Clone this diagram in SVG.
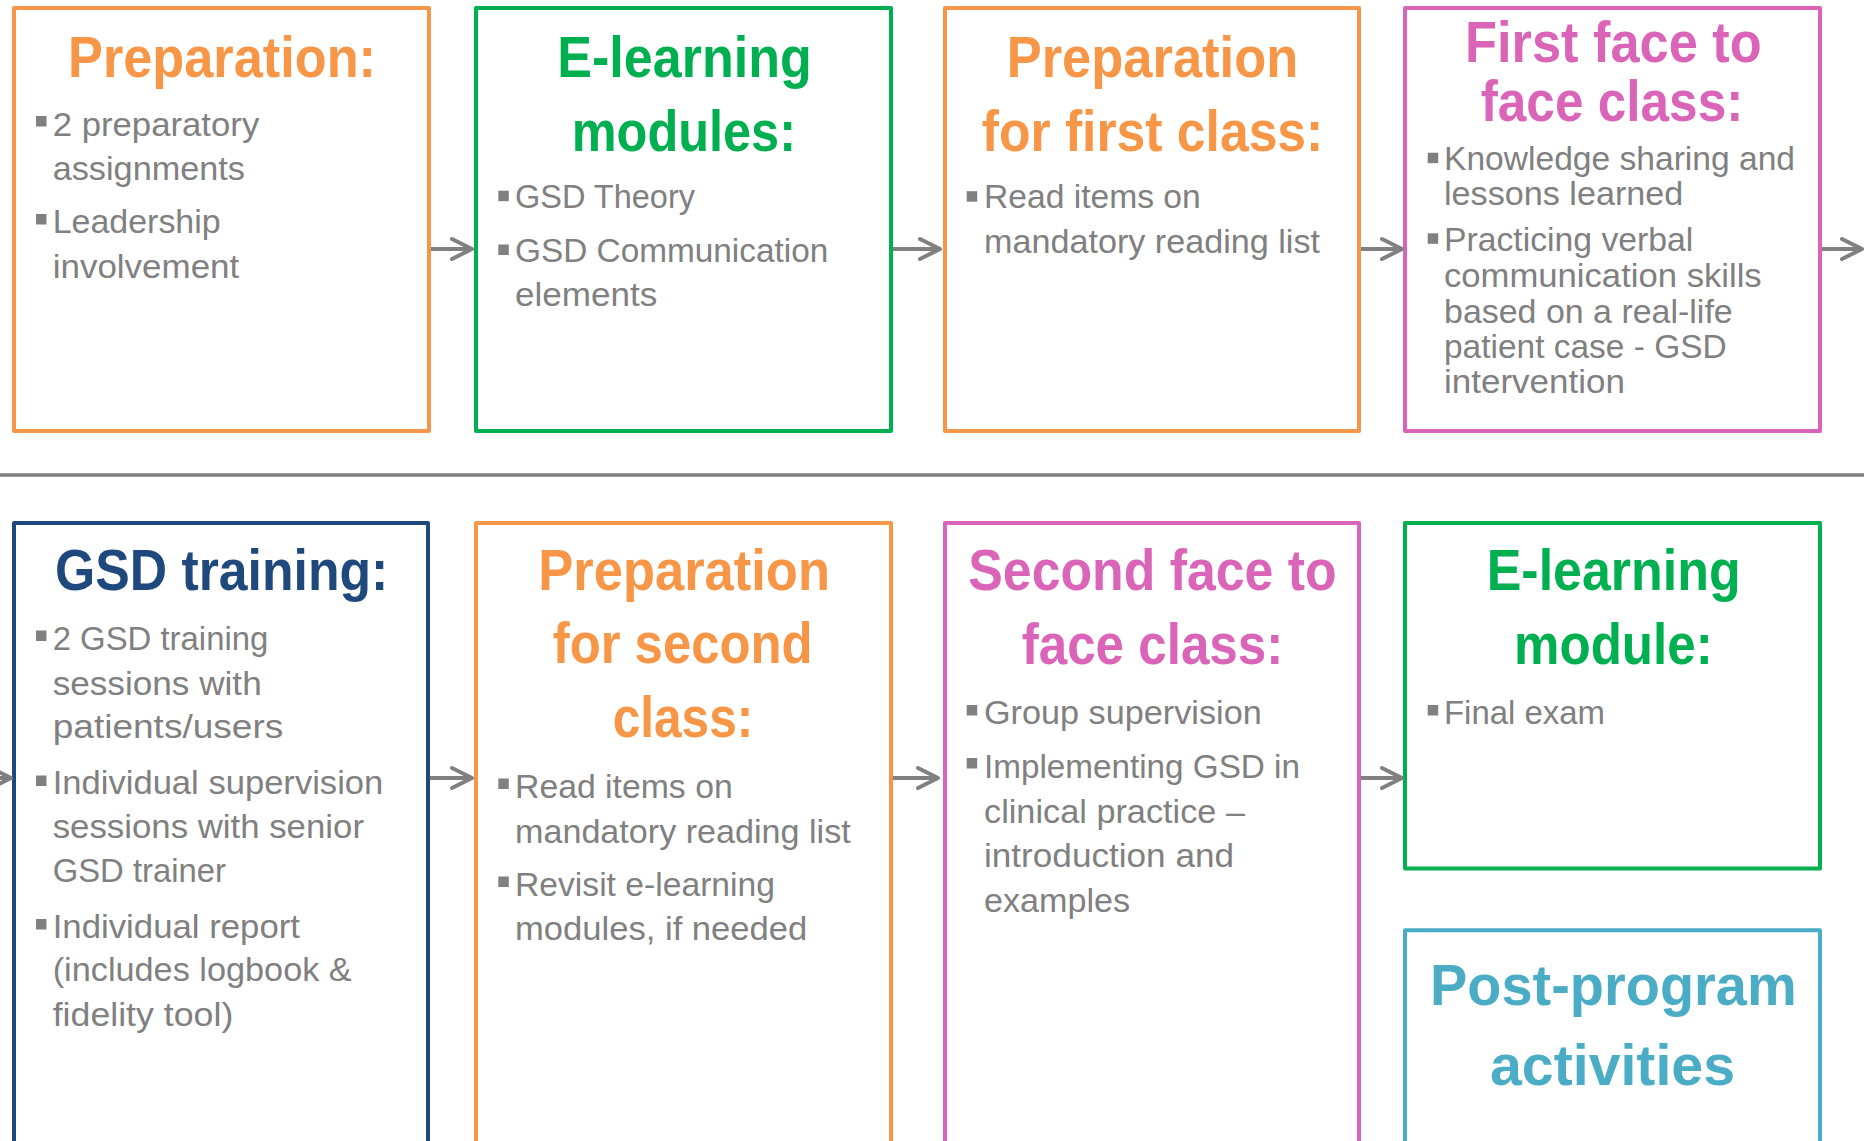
<svg xmlns="http://www.w3.org/2000/svg" width="1864" height="1141" viewBox="0 0 1864 1141">
<style>
.box{fill:none;stroke-width:4;stroke-linejoin:round}
.t{font-family:"Liberation Sans",Arial,sans-serif;font-weight:bold;font-size:58px}
.b{font-family:"Liberation Sans",Arial,sans-serif;font-size:32.5px;fill:#808080}
.bul{fill:#808080}
.conn{stroke:#808080;stroke-width:4;fill:none}
.or{stroke:#F79646}.ort{fill:#F79646}
.gr{stroke:#00B050}.grt{fill:#00B050}
.pk{stroke:#DA64B8}.pkt{fill:#DA64B8}
.nv{stroke:#1F497D}.nvt{fill:#1F497D}
.cy{stroke:#4BACC6}.cyt{fill:#4BACC6}
</style>
<defs>
<marker id="arr" markerUnits="userSpaceOnUse" viewBox="-24 -14 28 28" refX="0" refY="0" markerWidth="28" markerHeight="28" orient="auto">
<path d="M-20,-10 L0,0 L-20,10" fill="none" stroke="#808080" stroke-width="4" stroke-linecap="round" stroke-linejoin="round"/>
</marker>
</defs>
<rect width="1864" height="1141" fill="#ffffff"/>
<line x1="0" y1="475" x2="1864" y2="475" stroke="#808080" stroke-width="3.5"/>

<g id="prep">
<rect class="box or" x="14" y="8" width="415" height="423"/>
<text class="t ort" x="68" y="77" textLength="308" lengthAdjust="spacingAndGlyphs">Preparation:</text>
<rect class="bul" x="36" y="116" width="10.5" height="10.5"/>
<text class="b" x="52.7" y="136" textLength="206.6" lengthAdjust="spacingAndGlyphs">2 preparatory</text>
<text class="b" x="52.7" y="180" textLength="192.3" lengthAdjust="spacingAndGlyphs">assignments</text>
<rect class="bul" x="36" y="214" width="10.5" height="10.5"/>
<text class="b" x="52.7" y="233" textLength="168" lengthAdjust="spacingAndGlyphs">Leadership</text>
<text class="b" x="52.7" y="278" textLength="186.6" lengthAdjust="spacingAndGlyphs">involvement</text>
</g>

<g id="elearn1">
<rect class="box gr" x="476" y="8" width="415" height="423"/>
<text class="t grt" x="557.3" y="77" textLength="254.4" lengthAdjust="spacingAndGlyphs">E-learning</text>
<text class="t grt" x="571.7" y="150.7" textLength="224.3" lengthAdjust="spacingAndGlyphs">modules:</text>
<rect class="bul" x="498.3" y="190.7" width="10.5" height="10.5"/>
<text class="b" x="515" y="208.3" textLength="180" lengthAdjust="spacingAndGlyphs">GSD Theory</text>
<rect class="bul" x="498.3" y="244.5" width="10.5" height="10.5"/>
<text class="b" x="515" y="261.7" textLength="313.3" lengthAdjust="spacingAndGlyphs">GSD Communication</text>
<text class="b" x="515" y="306" textLength="142.3" lengthAdjust="spacingAndGlyphs">elements</text>
</g>

<g id="prepfirst">
<rect class="box or" x="945" y="8" width="414" height="423"/>
<text class="t ort" x="1006.7" y="77" textLength="291.6" lengthAdjust="spacingAndGlyphs">Preparation</text>
<text class="t ort" x="981.7" y="150.7" textLength="341.6" lengthAdjust="spacingAndGlyphs">for first class:</text>
<rect class="bul" x="966.7" y="191.2" width="10.5" height="10.5"/>
<text class="b" x="984" y="208.3" textLength="216.7" lengthAdjust="spacingAndGlyphs">Read items on</text>
<text class="b" x="984" y="253.3" textLength="336" lengthAdjust="spacingAndGlyphs">mandatory reading list</text>
</g>

<g id="face1">
<rect class="box pk" x="1405" y="8" width="415" height="423"/>
<text class="t pkt" x="1465" y="61.7" textLength="296.7" lengthAdjust="spacingAndGlyphs">First face to</text>
<text class="t pkt" x="1480.7" y="120.7" textLength="262.6" lengthAdjust="spacingAndGlyphs">face class:</text>
<rect class="bul" x="1427.7" y="152.7" width="10.5" height="10.5"/>
<text class="b" x="1444" y="170" textLength="351" lengthAdjust="spacingAndGlyphs">Knowledge sharing and</text>
<text class="b" x="1444" y="205" textLength="239.3" lengthAdjust="spacingAndGlyphs">lessons learned</text>
<rect class="bul" x="1427.7" y="233.3" width="10.5" height="10.5"/>
<text class="b" x="1444" y="250.7" textLength="249.3" lengthAdjust="spacingAndGlyphs">Practicing verbal</text>
<text class="b" x="1444" y="286.7" textLength="317.7" lengthAdjust="spacingAndGlyphs">communication skills</text>
<text class="b" x="1444" y="322.7" textLength="288.7" lengthAdjust="spacingAndGlyphs">based on a real-life</text>
<text class="b" x="1444" y="358.3" textLength="282.7" lengthAdjust="spacingAndGlyphs">patient case - GSD</text>
<text class="b" x="1444" y="393.3" textLength="181" lengthAdjust="spacingAndGlyphs">intervention</text>
</g>

<g id="gsdtraining">
<rect class="box nv" x="14" y="523" width="414" height="660"/>
<text class="t nvt" x="55" y="590.3" textLength="333.3" lengthAdjust="spacingAndGlyphs">GSD training:</text>
<rect class="bul" x="36" y="630.5" width="10.5" height="10.5"/>
<text class="b" x="52.7" y="649.8" textLength="215.6" lengthAdjust="spacingAndGlyphs">2 GSD training</text>
<text class="b" x="52.7" y="694.5" textLength="209" lengthAdjust="spacingAndGlyphs">sessions with</text>
<text class="b" x="52.7" y="738" textLength="230.6" lengthAdjust="spacingAndGlyphs">patients/users</text>
<rect class="bul" x="36" y="775.5" width="10.5" height="10.5"/>
<text class="b" x="52.7" y="794.4" textLength="330.6" lengthAdjust="spacingAndGlyphs">Individual supervision</text>
<text class="b" x="52.7" y="837.8" textLength="311.3" lengthAdjust="spacingAndGlyphs">sessions with senior</text>
<text class="b" x="52.7" y="882.2" textLength="173.3" lengthAdjust="spacingAndGlyphs">GSD trainer</text>
<rect class="bul" x="36" y="919" width="10.5" height="10.5"/>
<text class="b" x="52.7" y="937.7" textLength="247.3" lengthAdjust="spacingAndGlyphs">Individual report</text>
<text class="b" x="52.7" y="981.2" textLength="299" lengthAdjust="spacingAndGlyphs">(includes logbook &amp;</text>
<text class="b" x="52.7" y="1025.5" textLength="180.6" lengthAdjust="spacingAndGlyphs">fidelity tool)</text>
</g>

<g id="prepsecond">
<rect class="box or" x="476" y="523" width="415" height="660"/>
<text class="t ort" x="538.3" y="590.3" textLength="291.7" lengthAdjust="spacingAndGlyphs">Preparation</text>
<text class="t ort" x="552.7" y="663.3" textLength="260" lengthAdjust="spacingAndGlyphs">for second</text>
<text class="t ort" x="612.7" y="737" textLength="140.6" lengthAdjust="spacingAndGlyphs">class:</text>
<rect class="bul" x="498.3" y="778.5" width="10.5" height="10.5"/>
<text class="b" x="515" y="797.9" textLength="217.7" lengthAdjust="spacingAndGlyphs">Read items on</text>
<text class="b" x="515" y="843" textLength="335.7" lengthAdjust="spacingAndGlyphs">mandatory reading list</text>
<rect class="bul" x="498.3" y="876.5" width="10.5" height="10.5"/>
<text class="b" x="515" y="895.6" textLength="260" lengthAdjust="spacingAndGlyphs">Revisit e-learning</text>
<text class="b" x="515" y="940" textLength="292.3" lengthAdjust="spacingAndGlyphs">modules, if needed</text>
</g>

<g id="face2">
<rect class="box pk" x="945" y="523" width="414" height="660"/>
<text class="t pkt" x="968.3" y="590.3" textLength="368.4" lengthAdjust="spacingAndGlyphs">Second face to</text>
<text class="t pkt" x="1021.7" y="664" textLength="261.6" lengthAdjust="spacingAndGlyphs">face class:</text>
<rect class="bul" x="966.7" y="705" width="10.5" height="10.5"/>
<text class="b" x="984" y="723.6" textLength="277.7" lengthAdjust="spacingAndGlyphs">Group supervision</text>
<rect class="bul" x="966.7" y="758" width="10.5" height="10.5"/>
<text class="b" x="984" y="777.9" textLength="316" lengthAdjust="spacingAndGlyphs">Implementing GSD in</text>
<text class="b" x="984" y="822.7" textLength="261" lengthAdjust="spacingAndGlyphs">clinical practice –</text>
<text class="b" x="984" y="867" textLength="250" lengthAdjust="spacingAndGlyphs">introduction and</text>
<text class="b" x="984" y="911.7" textLength="146" lengthAdjust="spacingAndGlyphs">examples</text>
</g>

<g id="elearn2">
<rect class="box gr" x="1405" y="523" width="415" height="345.5"/>
<text class="t grt" x="1486.7" y="590.3" textLength="254" lengthAdjust="spacingAndGlyphs">E-learning</text>
<text class="t grt" x="1514" y="664" textLength="198.7" lengthAdjust="spacingAndGlyphs">module:</text>
<rect class="bul" x="1427.7" y="705" width="10.5" height="10.5"/>
<text class="b" x="1444" y="723.6" textLength="161" lengthAdjust="spacingAndGlyphs">Final exam</text>
</g>

<g id="postprogram">
<rect class="box cy" x="1405" y="930.2" width="415" height="260"/>
<text class="t cyt" x="1430" y="1005" textLength="366.7" lengthAdjust="spacingAndGlyphs">Post-program</text>
<text class="t cyt" x="1490" y="1085.4" textLength="245" lengthAdjust="spacingAndGlyphs">activities</text>
</g>

<g id="connectors">
<line class="conn" x1="431" y1="249" x2="472" y2="249" marker-end="url(#arr)"/>
<line class="conn" x1="893" y1="249" x2="940" y2="249" marker-end="url(#arr)"/>
<line class="conn" x1="1361" y1="249" x2="1402" y2="249" marker-end="url(#arr)"/>
<line class="conn" x1="1822" y1="249" x2="1862" y2="249" marker-end="url(#arr)"/>
<line class="conn" x1="-10" y1="778" x2="11" y2="778" marker-end="url(#arr)"/>
<line class="conn" x1="430" y1="778" x2="472" y2="778" marker-end="url(#arr)"/>
<line class="conn" x1="893" y1="778" x2="938" y2="778" marker-end="url(#arr)"/>
<line class="conn" x1="1361" y1="778" x2="1402" y2="778" marker-end="url(#arr)"/>
</g>
</svg>
